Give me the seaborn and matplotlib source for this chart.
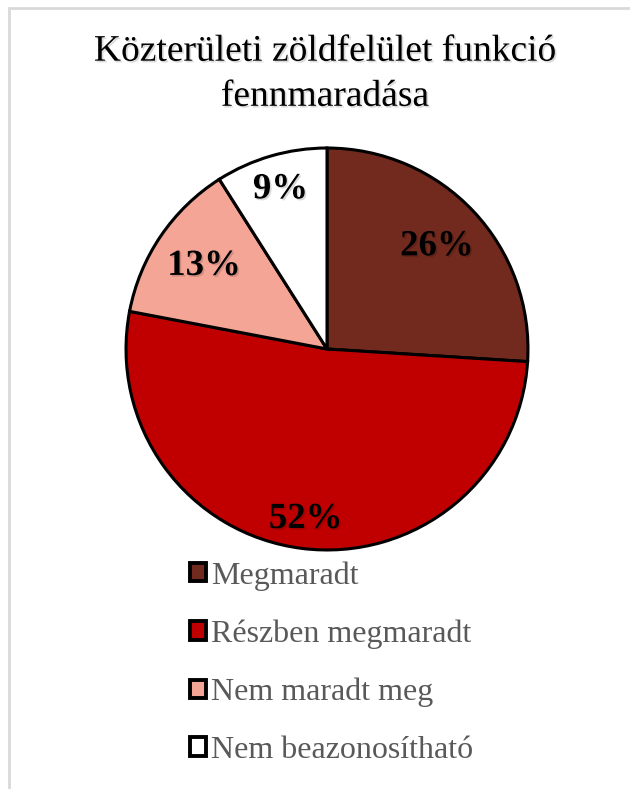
import matplotlib
matplotlib.use("Agg")
import matplotlib.pyplot as plt
import matplotlib.patheffects as pe
from matplotlib.patches import Patch, Rectangle
import numpy as np
import seaborn as sns

sns.set_theme(style="white")
plt.rcParams['font.family'] = ['Liberation Serif', 'DejaVu Serif']

# adatok
kategoriak = ["Megmaradt", "Részben megmaradt", "Nem maradt meg", "Nem beazonosítható"]
ertekek = [26, 52, 13, 9]
szinek = ["#722A1E", "#C00000", "#F4A596", "#FFFFFF"]
cimke_tav = [0.75, 0.85, 0.74, 0.83]

fig = plt.figure(figsize=(6.3, 7.89), dpi=100)
fig.patch.set_facecolor("white")

# szürke keret (csak bal és felső él látszik)
fig.add_artist(Rectangle((9/630, -0.05), 1.2, (789-8)/789 + 0.05, transform=fig.transFigure,
                         fill=False, edgecolor="#D9D9D9", lw=2))

ax = fig.add_axes([(327-205)/630, (789-349-205)/789, 410/630, 410/789])
wedges, _ = ax.pie(ertekek, colors=szinek, startangle=90, counterclock=False,
                   wedgeprops=dict(edgecolor="black", linewidth=2.2))
ax.set_xlim(-1.02, 1.02)
ax.set_ylim(-1.02, 1.02)
ax.set_aspect("equal")
ax.axis("off")

arnyek = [pe.withSimplePatchShadow(offset=(1.2, -1.2), shadow_rgbFace="black", alpha=0.15)]

for w, v, d in zip(wedges, ertekek, cimke_tav):
    szog = np.deg2rad((w.theta1 + w.theta2) / 2)
    ax.text(d * np.cos(szog), d * np.sin(szog), f"{v}%", ha="center", va="center",
            fontsize=26.5, fontweight="bold", color="black", path_effects=arnyek)

fig.text(325/630, 1 - 74/789, "Közterületi zöldfelület funkció\nfennmaradása",
         ha="center", va="center", fontsize=27, linespacing=1.4, color="black",
         path_effects=arnyek)

kezelok = [Patch(facecolor=c, edgecolor="black", linewidth=2.8) for c in szinek]
leg = fig.legend(kezelok, kategoriak, loc="center left",
                 bbox_to_anchor=(190/630, 1 - 663/789), frameon=False,
                 fontsize=23, handlelength=0.5, handleheight=0.5,
                 handletextpad=0.15, labelspacing=0.9, borderpad=0, borderaxespad=0)
for t in leg.get_texts():
    t.set_color("#595959")

fig.savefig("out.png", dpi=100, facecolor="white")
